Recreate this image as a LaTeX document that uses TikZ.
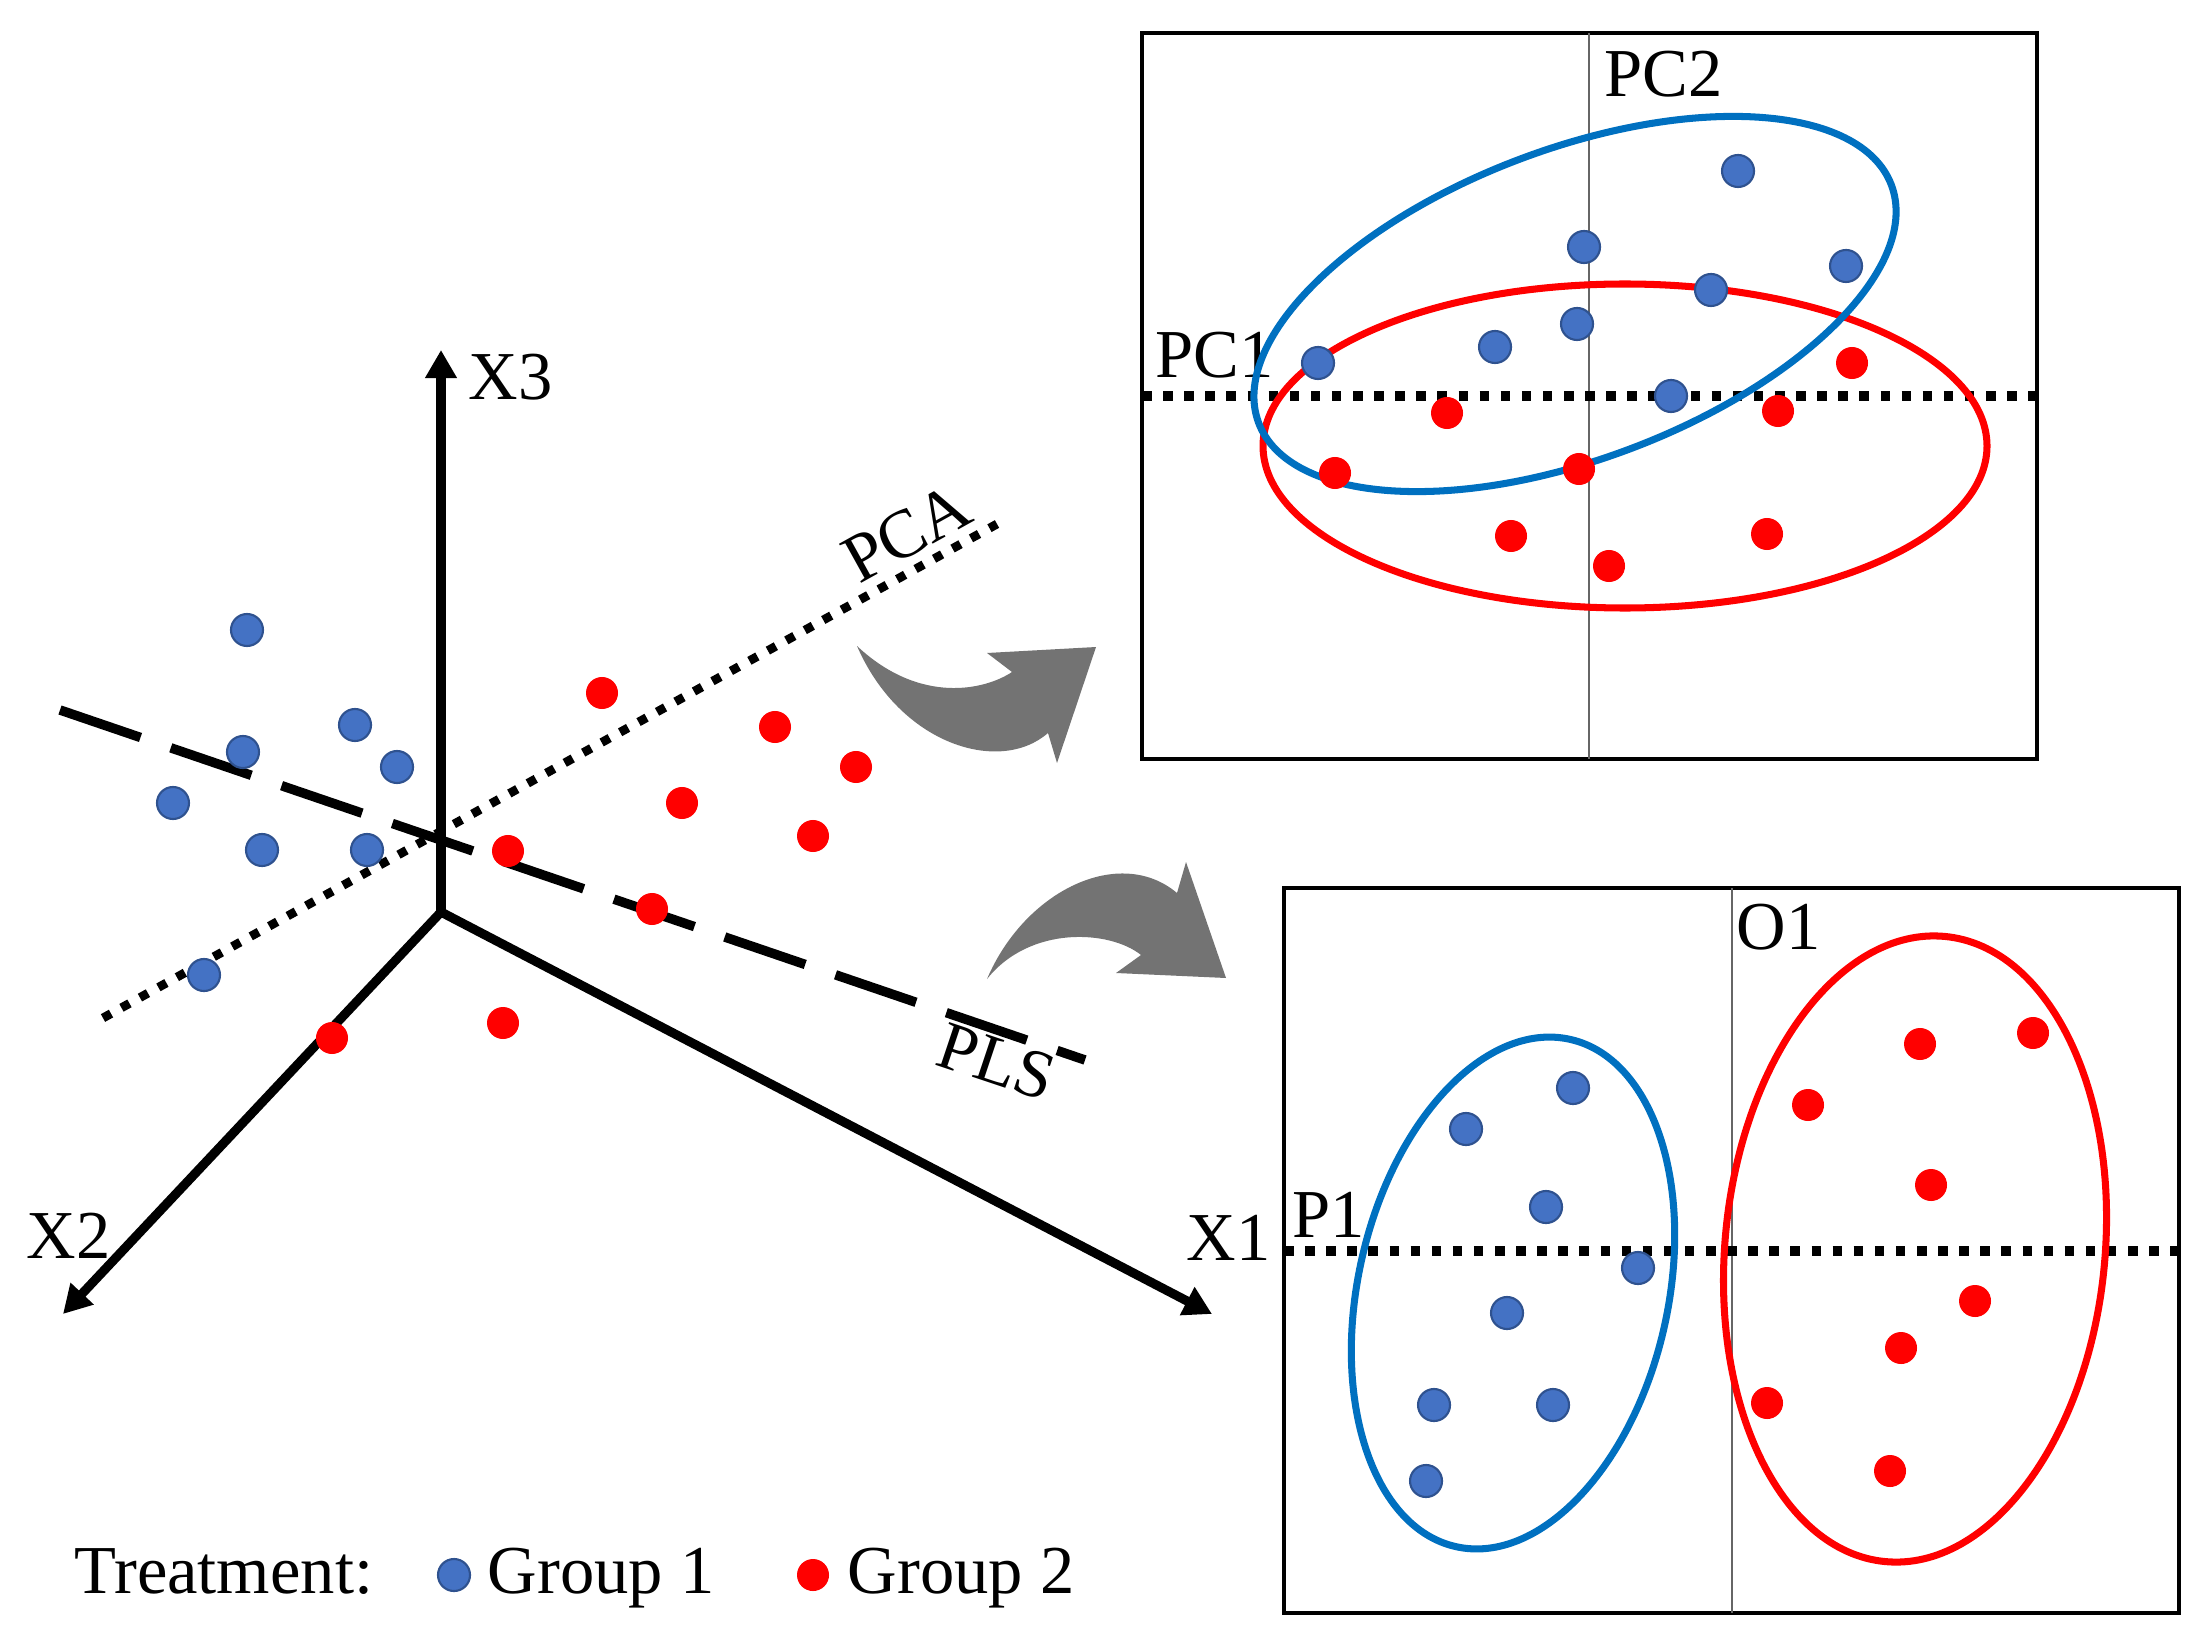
\documentclass[tikz,border=0pt]{standalone}
\usepackage{fontspec}
\setmainfont{Liberation Serif}
\usepackage{tikz}
\usetikzlibrary{arrows.meta}
\definecolor{grpblue}{RGB}{68,114,196}
\definecolor{grpblueline}{RGB}{47,82,143}
\definecolor{ellblue}{RGB}{0,112,192}
\definecolor{grpred}{RGB}{255,0,0}
\definecolor{arrowgray}{RGB}{115,115,115}
\tikzset{every picture/.style={x=0.01cm, y=-0.01cm}}
\tikzset{bluedot/.style={circle, fill=grpblue, draw=grpblueline, line width=0.6pt, minimum size=0.32cm, inner sep=0pt}}
\tikzset{reddot/.style={circle, fill=grpred, minimum size=0.32cm, inner sep=0pt}}
\tikzset{lbl/.style={font=\fontsize{19.5}{23}\selectfont, inner sep=0pt}}
\tikzset{axis/.style={line width=2.6pt, -{Triangle[length=0.28cm, width=0.3cm]}}}
\tikzset{pcaline/.style={line width=2.5pt, dash pattern=on 2.6pt off 3.4pt}}
\tikzset{plsline/.style={line width=2.7pt, dash pattern=on 0.85cm off 0.32cm}}
\tikzset{scoreline/.style={line width=2.6pt, dash pattern=on 2.7pt off 3.3pt}}
\tikzset{midline/.style={line width=0.45pt, black!60}}
\tikzset{frame/.style={line width=0.9pt}}
\tikzset{ring/.style={line width=2pt}}

\begin{document}
\begin{tikzpicture}
\useasboundingbox (0,0) rectangle (2207,1640);

\coordinate (o) at (441,912);
\coordinate (x1tip) at (1212,1314);
\coordinate (x2tip) at (63,1314);
\coordinate (x3tip) at (441,350);
\coordinate (pca-a) at (103,1018);
\coordinate (pca-b) at (997,524);
\coordinate (pls-a) at (60,710);
\coordinate (pls-b) at (1085,1060);

\draw[pcaline] (pca-a) -- (pca-b);
\draw[plsline] (pls-a) -- (pls-b);
\draw[axis] (o) -- (x3tip);
\draw[axis] (o) -- (x2tip);
\draw[axis] (o) -- (x1tip);

\node[lbl, anchor=base west] (lx3) at (468,400) {X3};
\node[lbl, anchor=base west] (lx2) at (26,1258) {X2};
\node[lbl, anchor=base west] (lx1) at (1186,1260) {X1};
\node[lbl, rotate=29] (lpca) at (907,533) {PCA};
\node[lbl, rotate=-18.5] (lpls) at (997,1062) {PLS};

\foreach \px/\py [count=\i] in {247/630, 355/725, 243/752, 397/767, 173/803, 262/850, 367/850, 204/975}
  \node[bluedot] (lb\i) at (\px,\py) {};
\foreach \px/\py [count=\i] in {602/693, 775/727, 856/767, 682/803, 813/836, 508/851, 652/909, 503/1023, 332/1038}
  \node[reddot] (lr\i) at (\px,\py) {};

\fill[arrowgray] (857,646) .. controls (900,745) and (1000,775) .. (1048,733)
  -- (1057,763) -- (1096,647) -- (987,653) -- (1012,672)
  .. controls (985,690) and (920,705) .. (857,646) -- cycle;
\fill[arrowgray] (987,979) .. controls (1025,890) and (1120,845) .. (1177,893)
  -- (1186,862) -- (1226,978) -- (1116,973) -- (1141,955)
  .. controls (1110,930) and (1030,925) .. (987,979) -- cycle;

\draw[frame] (1142,33) rectangle (2037,759);
\coordinate (pc2-a) at (1589,33);
\coordinate (pc2-b) at (1589,759);
\coordinate (pc1-a) at (1142,396);
\coordinate (pc1-b) at (2037,396);
\draw[midline] (pc2-a) -- (pc2-b);
\draw[scoreline] (pc1-a) -- (pc1-b);
\node[lbl, anchor=base west] (lpc2) at (1604,97) {PC2};
\node[lbl, anchor=base west] (lpc1) at (1155,378) {PC1};
\draw[grpred, ring] (1625,446) ellipse (362 and 162);
\draw[ellblue, ring, rotate around={20.6:(1575,304)}] (1575,304) ellipse (338 and 155);
\foreach \px/\py [count=\i] in {1738/171, 1584/247, 1846/266, 1711/290, 1577/324, 1495/347, 1318/363, 1671/396}
  \node[bluedot] (tb\i) at (\px,\py) {};
\foreach \px/\py [count=\i] in {1852/363, 1447/413, 1778/411, 1335/473, 1579/469, 1511/536, 1767/534, 1609/566}
  \node[reddot] (tr\i) at (\px,\py) {};

\draw[frame] (1284,888) rectangle (2179,1613);
\coordinate (o1-a) at (1732,888);
\coordinate (o1-b) at (1732,1613);
\coordinate (p1-a) at (1284,1251);
\coordinate (p1-b) at (2179,1251);
\draw[midline] (o1-a) -- (o1-b);
\draw[scoreline] (p1-a) -- (p1-b);
\node[lbl, anchor=base west] (lo1) at (1736,949) {O1};
\node[lbl, anchor=base west] (lp1) at (1292,1237) {P1};
\draw[ellblue, ring, rotate around={-12.7:(1513,1293)}] (1513,1293) ellipse (155 and 260);
\draw[grpred, ring, rotate around={-5.5:(1915,1249)}] (1915,1249) ellipse (190 and 314);
\foreach \px/\py [count=\i] in {1573/1088, 1466/1129, 1546/1207, 1638/1268, 1507/1313, 1434/1405, 1553/1405, 1426/1481}
  \node[bluedot] (bb\i) at (\px,\py) {};
\foreach \px/\py [count=\i] in {1920/1044, 2033/1033, 1808/1105, 1931/1185, 1975/1301, 1901/1348, 1767/1403, 1890/1471}
  \node[reddot] (br\i) at (\px,\py) {};

\node[lbl, anchor=base west] (treat) at (74,1593) {Treatment:};
\node[bluedot] (keyb) at (454,1575) {};
\node[lbl, anchor=base west] (g1) at (487,1593) {Group 1};
\node[reddot] (keyr) at (813,1575) {};
\node[lbl, anchor=base west] (g2) at (847,1593) {Group 2};
\end{tikzpicture}
\end{document}
